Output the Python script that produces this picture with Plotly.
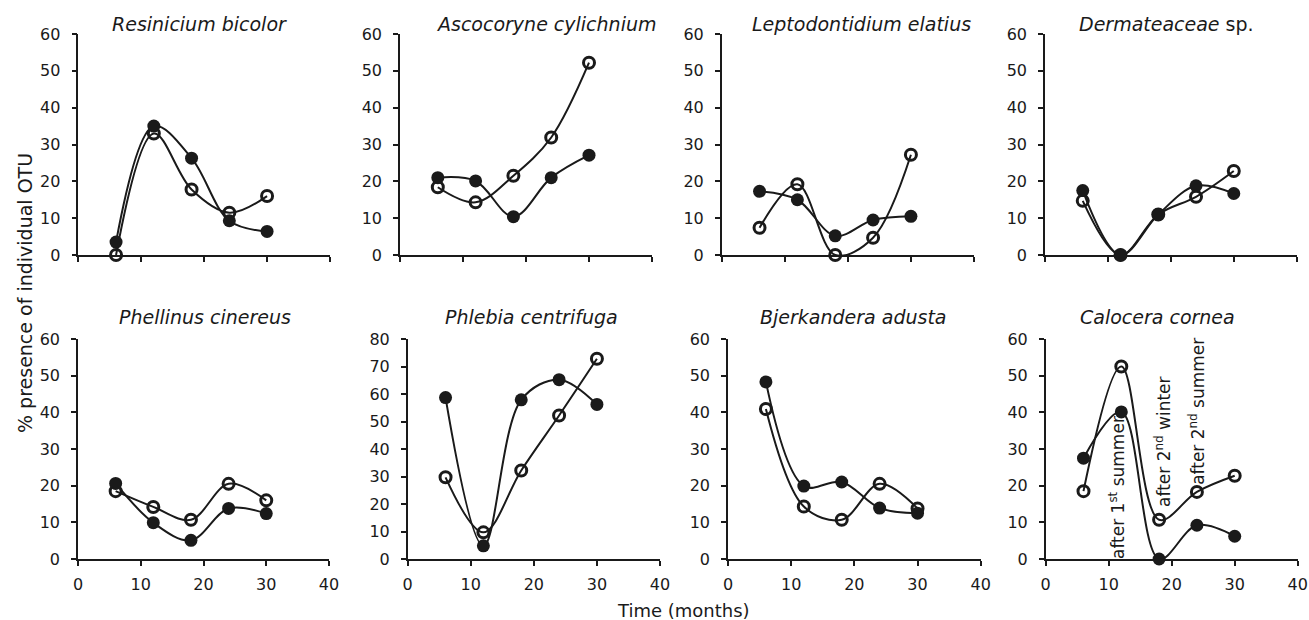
import plotly.graph_objects as go

# ---------------- data ----------------
months = [6, 12, 18, 24, 30]

titles = [
    "<i>Resinicium bicolor</i>",
    "<i>Ascocoryne cylichnium</i>",
    "<i>Leptodontidium elatius</i>",
    "<i>Dermateaceae</i> sp.",
    "<i>Phellinus cinereus</i>",
    "<i>Phlebia centrifuga</i>",
    "<i>Bjerkandera adusta</i>",
    "<i>Calocera cornea</i>",
]

resinicium_filled = [3.5, 35.0, 26.3, 9.3, 6.4]
resinicium_open = [0.0, 33.0, 17.8, 11.5, 16.0]

ascocoryne_filled = [21.0, 20.1, 10.4, 21.0, 27.1]
ascocoryne_open = [18.4, 14.3, 21.5, 31.9, 52.2]

leptodontidium_filled = [17.3, 15.0, 5.2, 9.5, 10.5]
leptodontidium_open = [7.4, 19.2, 0.0, 4.7, 27.2]

dermateaceae_filled = [17.5, 0.0, 11.0, 18.8, 16.7]
dermateaceae_open = [14.7, 0.0, 11.0, 15.8, 22.8]

phellinus_filled = [20.6, 9.9, 5.1, 13.8, 12.4]
phellinus_open = [18.5, 14.2, 10.7, 20.5, 16.0]

phlebia_filled = [58.7, 4.8, 57.9, 65.2, 56.2]
phlebia_open = [29.7, 9.7, 32.2, 52.2, 72.8]

bjerkandera_filled = [48.3, 19.9, 21.0, 13.9, 12.5]
bjerkandera_open = [40.9, 14.3, 10.7, 20.5, 13.8]

calocera_filled = [27.5, 40.1, 0.0, 9.2, 6.2]
calocera_open = [18.5, 52.5, 10.7, 18.3, 22.7]

y_max = [60, 60, 60, 60, 60, 80, 60, 60]
x_ticks = [0, 10, 20, 30, 40]

season_labels = ["after 1<sup>st</sup> summer",
                 "after 2<sup>nd</sup> winter",
                 "after 2<sup>nd</sup> summer"]

x_title = "Time (months)"
y_title = "% presence of individual OTU"

# ---------------- layout geometry ----------------
W, H = 1309, 620
FONT = "DejaVu Sans"
INK = "#1a1a1a"

# plot areas in pixels: (x_left, x_right, y_top, y_bottom)
boxes = [
    (78.3, 330.0, 34, 255),
    (400.0, 652.0, 34, 255),
    (721.7, 974.0, 34, 255),
    (1045.0, 1296.7, 34, 255),
    (78.0, 329.0, 339, 559),
    (407.7, 660.0, 339, 559),
    (728.0, 980.7, 339, 559),
    (1045.7, 1297.7, 339, 559),
]
title_pos = [(199.5, 24), (545.5, 24), (862, 24), (1166, 24),
             (204.5, 317), (531, 317), (853, 317), (1157, 317)]
season_pos = [(11.3, 19.6), (18.6, 31.9), (23.9, 40.2)]

series = [
    (resinicium_filled, resinicium_open),
    (ascocoryne_filled, ascocoryne_open),
    (leptodontidium_filled, leptodontidium_open),
    (dermateaceae_filled, dermateaceae_open),
    (phellinus_filled, phellinus_open),
    (phlebia_filled, phlebia_open),
    (bjerkandera_filled, bjerkandera_open),
    (calocera_filled, calocera_open),
]

fig = go.Figure()
layout = dict(
    width=W, height=H,
    margin=dict(l=0, r=0, t=0, b=0, pad=0),
    paper_bgcolor="white", plot_bgcolor="white",
    showlegend=False,
    font=dict(family=FONT, size=16, color=INK),
)

annotations = []
for i, ((filled, opened), box) in enumerate(zip(series, boxes)):
    n = i + 1
    xs = "x" if n == 1 else f"x{n}"
    ys = "y" if n == 1 else f"y{n}"
    xl, xr, yt, yb = box
    bottom_row = i >= 4

    fig.add_trace(go.Scatter(
        x=months, y=opened, xaxis=xs, yaxis=ys, mode="lines+markers",
        line=dict(color=INK, width=2, shape="spline", smoothing=1.0),
        marker=dict(symbol="circle-open", size=11, color=INK,
                    line=dict(color=INK, width=3)),
        cliponaxis=False, name="open"))
    fig.add_trace(go.Scatter(
        x=months, y=filled, xaxis=xs, yaxis=ys, mode="lines+markers",
        line=dict(color=INK, width=2, shape="spline", smoothing=1.0),
        marker=dict(symbol="circle", size=13, color=INK,
                    line=dict(width=0)),
        cliponaxis=False, name="filled"))

    xkey = "xaxis" if n == 1 else f"xaxis{n}"
    ykey = "yaxis" if n == 1 else f"yaxis{n}"
    layout[xkey] = dict(
        domain=[xl / W, xr / W], anchor=ys, range=[0, 40],
        tickvals=x_ticks, showticklabels=bottom_row,
        showline=True, linecolor=INK, linewidth=1.5,
        ticks="outside", ticklen=5, tickwidth=1.5, tickcolor=INK,
        ticklabelstandoff=5, automargin=False,
        showgrid=False, zeroline=False, fixedrange=True,
        tickfont=dict(family=FONT, size=16, color=INK),
    )
    layout[ykey] = dict(
        domain=[1 - yb / H, 1 - yt / H], anchor=xs, range=[0, y_max[i]],
        dtick=10, showline=True, linecolor=INK, linewidth=1.5,
        ticks="outside", ticklen=5, tickwidth=1.5, tickcolor=INK,
        ticklabelstandoff=8, automargin=False,
        showgrid=False, zeroline=False, fixedrange=True,
        tickfont=dict(family=FONT, size=16, color=INK),
    )

    tx, ty = title_pos[i]
    annotations.append(dict(
        text=titles[i], x=tx / W, y=1 - ty / H, xref="paper", yref="paper",
        xanchor="center", yanchor="middle", showarrow=False,
        font=dict(family=FONT, size=19, color=INK)))

for label, (lx, ly) in zip(season_labels, season_pos):
    annotations.append(dict(
        text=label, x=lx, y=ly, xref="x8", yref="y8", textangle=-90,
        xanchor="center", yanchor="middle", showarrow=False,
        font=dict(family=FONT, size=17, color=INK)))

annotations.append(dict(
    text=x_title, x=683 / W, y=1 - 610 / H, xref="paper", yref="paper",
    xanchor="center", yanchor="middle", showarrow=False,
    font=dict(family=FONT, size=18, color=INK)))
annotations.append(dict(
    text=y_title, x=25 / W, y=1 - 293 / H, xref="paper", yref="paper",
    xanchor="center", yanchor="middle", textangle=-90, showarrow=False,
    font=dict(family=FONT, size=19, color=INK)))

layout["annotations"] = annotations
fig.update_layout(**layout)
fig.write_html(
    "out.html",
    post_script="document.body.style.margin='0';"
                "document.body.style.padding='0';"
                "document.documentElement.style.overflow='hidden';",
)
